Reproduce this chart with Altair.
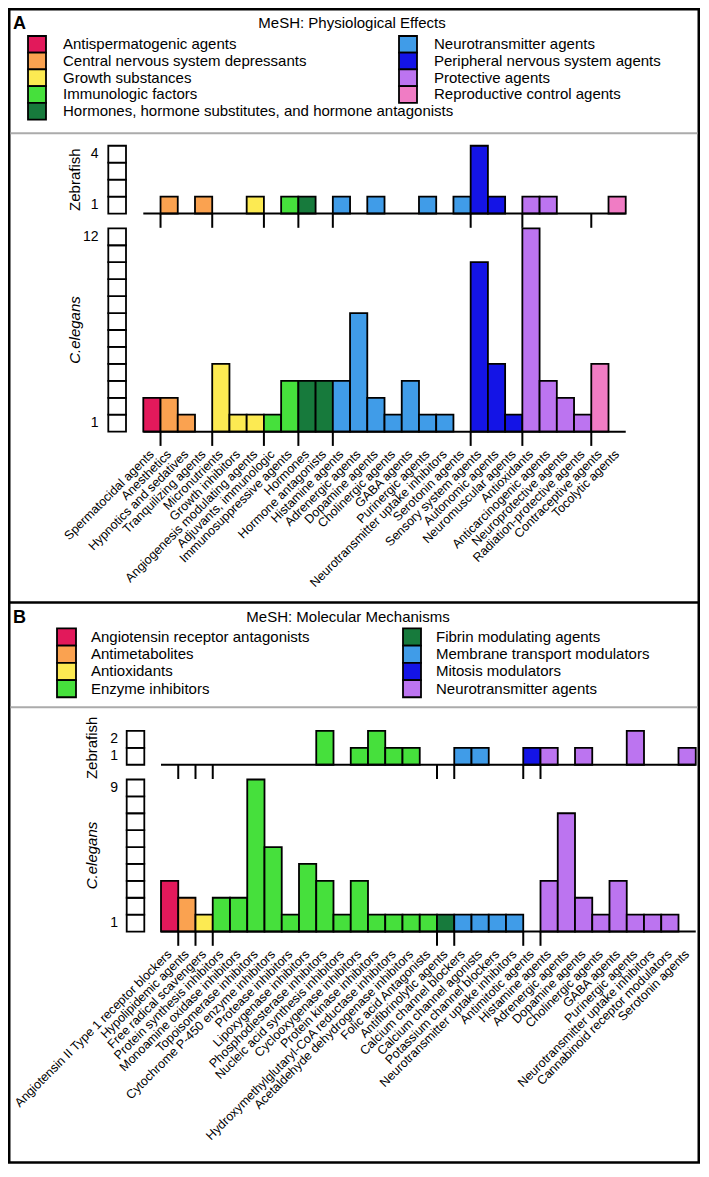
import altair as alt
import pandas as pd

# ---------------- colours ----------------
RED = "#E2195B"; ORANGE = "#FAA250"; YELLOW = "#FCEA52"; GREEN = "#46E03C"
DKGREEN = "#177A3C"; BLUE = "#409CE8"; DKBLUE = "#1414E6"; PURPLE = "#BC74F0"; PINK = "#F07CC4"

# ---------------- panel A data ----------------
a_title = "MeSH: Physiological Effects"
a_legend = ["Antispermatogenic agents", "Central nervous system depressants", "Growth substances",
            "Immunologic factors", "Hormones, hormone substitutes, and hormone antagonists",
            "Neurotransmitter agents", "Peripheral nervous system agents", "Protective agents",
            "Reproductive control agents"]
a_colors = [RED, ORANGE, YELLOW, GREEN, DKGREEN, BLUE, DKBLUE, PURPLE, PINK]
a_labels = ["Spermatocidal agents", "Anesthetics", "Hypnotics and sedatives", "Tranquilizing agents",
            "Micronutrients", "Growth inhibitors", "Angiogenesis modulating agents",
            "Adjuvants, immunologic", "Immunosuppressive agents", "Hormones", "Hormone antagonists",
            "Histamine agents", "Adrenergic agents", "Dopamine agents", "Cholinergic agents",
            "GABA agents", "Purinergic agents", "Neurotransmitter uptake inhibitors",
            "Serotonin agents", "Sensory system agents", "Autonomic agents", "Neuromuscular agents",
            "Antioxidants", "Anticarcinogenic agents", "Neuroprotective agents",
            "Radiation-protective agents", "Contraceptive agents", "Tocolytic agents"]
a_group = [0, 1, 1, 1, 2, 2, 2, 3, 3, 4, 4, 5, 5, 5, 5, 5, 5, 5, 5, 6, 6, 6, 7, 7, 7, 7, 8, 8]
a_zebrafish = [0, 1, 0, 1, 0, 0, 1, 0, 1, 1, 0, 1, 0, 1, 0, 0, 1, 0, 1, 4, 1, 0, 1, 1, 0, 0, 0, 1]
a_celegans = [2, 2, 1, 0, 4, 1, 1, 1, 3, 3, 3, 3, 7, 2, 1, 3, 1, 1, 0, 10, 4, 1, 12, 3, 2, 1, 4, 0]

# ---------------- panel B data ----------------
b_title = "MeSH: Molecular Mechanisms"
b_legend = ["Angiotensin receptor antagonists", "Antimetabolites", "Antioxidants", "Enzyme inhibitors",
            "Fibrin modulating agents", "Membrane transport modulators", "Mitosis modulators",
            "Neurotransmitter agents"]
b_colors = [RED, ORANGE, YELLOW, GREEN, DKGREEN, BLUE, DKBLUE, PURPLE]
b_labels = ["Angiotensin II Type 1 receptor blockers", "Hypolipidemic agents", "Free radical scavengers",
            "Protein synthesis inhibitors", "Monoamine oxidase inhibitors", "Topoisomerase inhibitors",
            "Cytochrome P-450 enzyme inhibitors", "Protease inhibitors", "Lipoxygenase inhibitors",
            "Phosphodiesterase inhibitors", "Nucleic acid synthesis inhibitors",
            "Cyclooxygenase inhibitors", "Protein kinase inhibitors",
            "Hydroxymethylglutaryl-CoA reductase inhibitors", "Acetaldehyde dehydrogenase inhibitors",
            "Folic acid Antagonists", "Antifibrinolytic agents", "Calcium channel blockers",
            "Calcium channel agonists", "Potassium channel blockers",
            "Neurotransmitter uptake inhibitors", "Antimitotic agents", "Histamine agents",
            "Adrenergic agents", "Dopamine agents", "Cholinergic agents", "GABA agents",
            "Purinergic agents", "Neurotransmitter uptake inhibitors",
            "Cannabinoid receptor modulators", "Serotonin agents"]
b_group = [0, 1, 2, 3, 3, 3, 3, 3, 3, 3, 3, 3, 3, 3, 3, 3, 4, 5, 5, 5, 5, 6, 7, 7, 7, 7, 7, 7, 7, 7, 7]
b_zebrafish = [0, 0, 0, 0, 0, 0, 0, 0, 0, 2, 0, 1, 2, 1, 1, 0, 0, 1, 1, 0, 0, 1, 1, 0, 1, 0, 0, 2, 0, 0, 1]
b_celegans = [3, 2, 1, 2, 2, 9, 5, 1, 4, 3, 1, 3, 1, 1, 1, 1, 1, 1, 1, 1, 1, 0, 3, 7, 2, 1, 3, 1, 1, 1, 0]

# ---------------- layout helpers ----------------
W, H = 692, 1156
FONT = "Liberation Sans, Arial, Helvetica, sans-serif"


def X(rx):
    return rx - 8


def Y(ry):
    return 1 + (ry - 1.5) * 0.9825


dummy = pd.DataFrame({"d": [0]})
layers = []


def text_layer(text, x, y, size, **kw):
    return alt.Chart(dummy).mark_text(text=text, font=FONT, fontSize=size, **kw).encode(
        x=alt.value(x), y=alt.value(y))


# frame
layers.append(alt.Chart(dummy).mark_rect(fillOpacity=0, stroke="black", strokeWidth=2.5).encode(
    x=alt.value(1.25), x2=alt.value(W - 1.25), y=alt.value(1.25), y2=alt.value(Y(1175.5))))
layers.append(alt.Chart(dummy).mark_rule(color="black", strokeWidth=2.5).encode(
    x=alt.value(0), x2=alt.value(W), y=alt.value(Y(605.5))))
for gy in (128, 712.3):
    layers.append(alt.Chart(dummy).mark_rule(color="#ABABAB", strokeWidth=2).encode(
        x=alt.value(2.5), x2=alt.value(W - 2.5), y=alt.value(Y(gy))))

layers.append(text_layer("A", 5, Y(16.5), 18, fontWeight="bold", align="left", baseline="middle"))
layers.append(text_layer("B", 5, Y(621.5), 18, fontWeight="bold", align="left", baseline="middle"))
layers.append(text_layer(a_title, X(352), Y(16), 15, align="center", baseline="middle"))
layers.append(text_layer(b_title, X(348), Y(620.5), 15, align="center", baseline="middle"))


def legend_layers(names, colors, split, nrows, top, bottom, cols):
    df = pd.DataFrame({"name": names, "color": colors})
    df["col"] = [0 if i < split else 1 for i in range(len(names))]
    df["row"] = [i if i < split else i - split for i in range(len(names))]
    ysc = alt.Scale(domain=[0, nrows], range=[Y(top), Y(bottom)], nice=False, zero=False)
    out = []
    for c, (rx0, rx1, tx) in enumerate(cols):
        base = alt.Chart(df[df["col"] == c]).transform_calculate(
            r1="datum.row + 1", rm="datum.row + 0.5")
        out.append(base.mark_rect(stroke="black", strokeWidth=1.8).encode(
            x=alt.value(X(rx0)), x2=alt.value(X(rx1)),
            y=alt.Y("row:Q", scale=ysc, axis=None), y2="r1:Q",
            fill=alt.Fill("color:N", scale=None)))
        out.append(base.mark_text(font=FONT, fontSize=15, align="left", baseline="middle").encode(
            x=alt.value(X(tx)), y=alt.Y("rm:Q", scale=ysc, axis=None), text="name:N"))
    return out


layers += legend_layers(a_legend, a_colors, 5, 5, 29, 114, [(28, 46, 63), (399, 417, 434)])
layers += legend_layers(b_legend, b_colors, 4, 4, 632, 702, [(57, 76, 91), (403, 421, 436)])


def panel_layers(labels, group, zf, ce, colors, x0, unit, uy, zf_base, ce_base,
                 ruler, tick_x, title_x):
    n = len(labels)
    xsc = alt.Scale(domain=[0, n], range=[X(x0), X(x0 + n * unit)], nice=False, zero=False)
    df = pd.DataFrame({"i": list(range(n)), "label": labels, "zf": zf, "ce": ce,
                       "color": [colors[g] for g in group]})
    bounds = pd.DataFrame({"b": [i for i in range(1, n) if group[i] != group[i - 1]]})
    out = []
    for field, base, title, italic in (("zf", zf_base, "Zebrafish", False),
                                       ("ce", ce_base, "C.elegans", True)):
        maxv = int(df[field].max())
        top = base - maxv * uy
        ysc = alt.Scale(domain=[0, maxv], range=[Y(base), Y(top)], nice=False, zero=False)
        # bars
        out.append(alt.Chart(df).transform_filter(f"datum.{field} > 0").transform_calculate(
            i1="datum.i + 1", z="0").mark_rect(stroke="black", strokeWidth=1.8).encode(
            x=alt.X("i:Q", scale=xsc, axis=None), x2="i1:Q",
            y=alt.Y(f"{field}:Q", scale=ysc, axis=None), y2="z:Q",
            fill=alt.Fill("color:N", scale=None)))
        # ruler boxes (y axis)
        rdf = pd.DataFrame({"k": list(range(1, maxv + 1))})
        out.append(alt.Chart(rdf).transform_calculate(lo="datum.k - 1").mark_rect(
            fill="white", stroke="black", strokeWidth=1.8).encode(
            x=alt.value(X(ruler[0])), x2=alt.value(X(ruler[1])),
            y=alt.Y("lo:Q", scale=ysc, axis=None), y2="k:Q"))
        ldf = pd.DataFrame({"v": [1, maxv]})
        out.append(alt.Chart(ldf).transform_calculate(pos="datum.v - 0.5").mark_text(
            font=FONT, fontSize=14, align="right", baseline="middle").encode(
            x=alt.value(X(tick_x)), y=alt.Y("pos:Q", scale=ysc, axis=None), text="v:Q"))
        # baseline
        out.append(alt.Chart(df).transform_aggregate(a="min(i)", b="max(i)").transform_calculate(
            b1="datum.b + 1", z="0").mark_rule(color="black", strokeWidth=2).encode(
            x=alt.X("a:Q", scale=xsc, axis=None), x2="b1:Q",
            y=alt.Y("z:Q", scale=ysc, axis=None)))
        # group ticks
        out.append(alt.Chart(bounds).mark_rule(color="black", strokeWidth=2).encode(
            x=alt.X("b:Q", scale=xsc, axis=None),
            y=alt.value(Y(base)), y2=alt.value(Y(base + 14.5))))
        # axis title
        kw = {"fontStyle": "italic"} if italic else {}
        out.append(text_layer(title, X(title_x), Y((base + top) / 2), 15, angle=270,
                              align="center", baseline="middle", **kw))
    # category labels
    out.append(alt.Chart(df).transform_calculate(c="datum.i + 0.5").mark_text(
        font=FONT, fontSize=12.5, angle=315, align="right", baseline="middle").encode(
        x=alt.X("c:Q", scale=xsc, axis=None), y=alt.value(Y(ce_base + 21)), text="label:N"))
    return out


layers += panel_layers(a_labels, a_group, a_zebrafish, a_celegans, a_colors,
                       143.3, 17.23, 17.25, 209.7, 431.7, (108.3, 126), 98.5, 75)
layers += panel_layers(b_labels, b_group, b_zebrafish, b_celegans, b_colors,
                       161, 17.25, 17.2, 770.7, 940.5, (126.7, 144.3), 118, 92)

chart = alt.layer(*layers).resolve_scale(x="independent", y="independent").properties(
    width=W, height=H, autosize=alt.AutoSizeParams(type="none"), padding=0
).configure_view(strokeWidth=0)

chart.save("out.html", embed_options={"renderer": "svg", "actions": False})
